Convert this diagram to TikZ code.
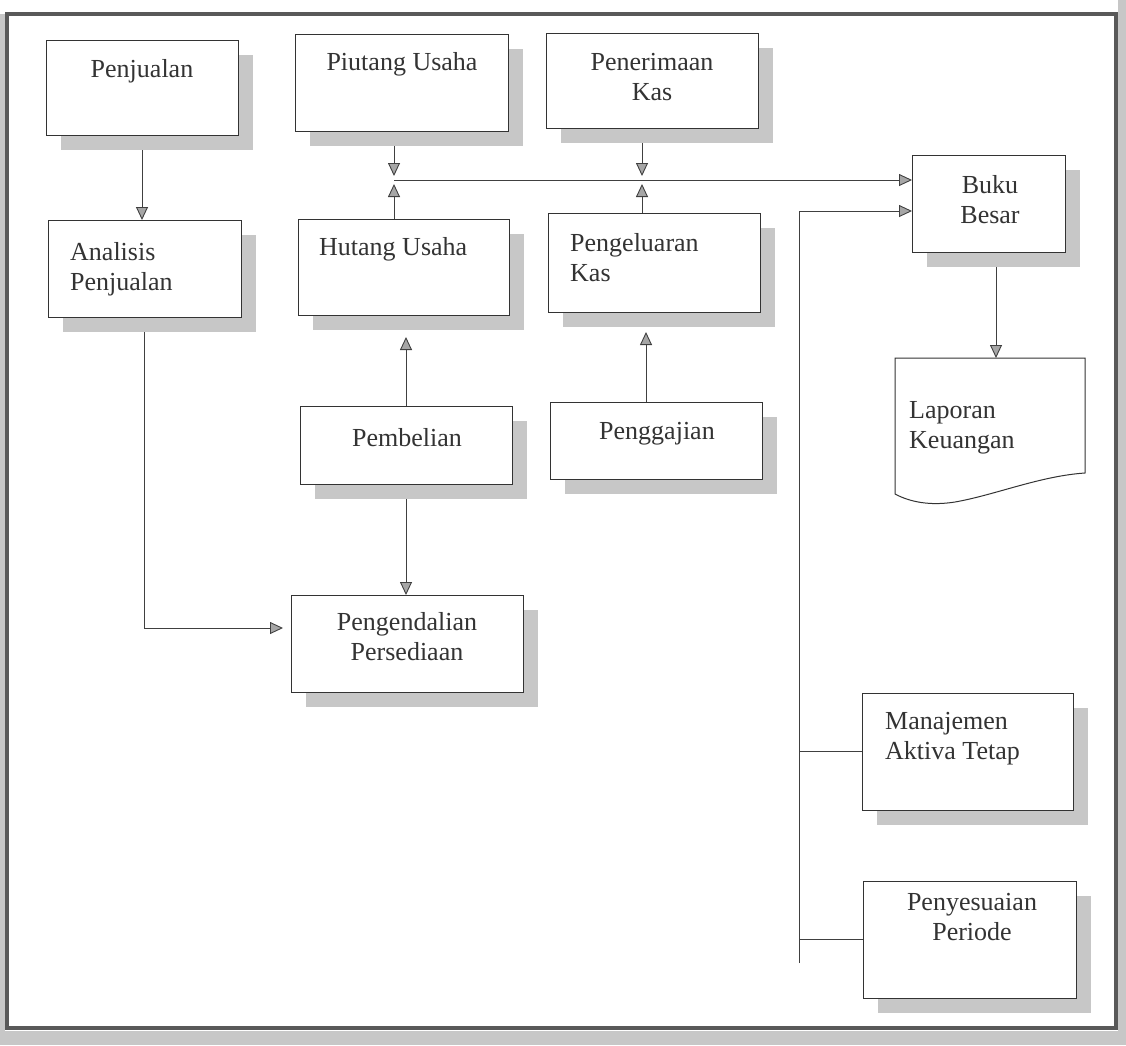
\documentclass[tikz,border=0pt]{standalone}
\usepackage{fontspec}
\setmainfont{Liberation Serif}
\usetikzlibrary{arrows.meta,calc,shadows}
\pgfdeclarelayer{bg}
\pgfsetlayers{bg,main}
\begin{document}
\begin{tikzpicture}[x=1pt,y=-1pt]
\tikzset{
 boxstyle/.style={draw=black!80, line width=1pt, fill=white, inner sep=0pt, outer sep=0pt,
   drop shadow={shadow xshift=15pt, shadow yshift=-15pt, fill=black!22, opacity=1}},
 txt/.style={inner sep=0pt, text=black!80, font=\fontsize{26}{30}\selectfont},
 conn/.style={draw=black!75, line width=0.9pt},
 arr/.style={conn, -{Triangle[length=13pt,width=12pt,fill=black!35]}},
}
\useasboundingbox (0,0) rectangle (1126,1045);
% boxes
\node[boxstyle, minimum width=192pt, minimum height=95pt] (pen) at (142,87.5) {};
\node[boxstyle, minimum width=213pt, minimum height=97pt] (piu) at (401.5,82.5) {};
\node[boxstyle, minimum width=212pt, minimum height=95pt] (pnr) at (652,80.5) {};
\node[boxstyle, minimum width=153pt, minimum height=97pt] (buku) at (988.5,203.5) {};
\node[boxstyle, minimum width=193pt, minimum height=97pt] (ana) at (144.5,268.5) {};
\node[boxstyle, minimum width=211pt, minimum height=96pt] (hut) at (403.5,267) {};
\node[boxstyle, minimum width=212pt, minimum height=99pt] (pgl) at (654,262.5) {};
\node[inner sep=0pt, outer sep=0pt, minimum width=190pt, minimum height=145pt] (lap) at (990,430.5) {};
\node[boxstyle, minimum width=212pt, minimum height=78pt] (pem) at (406,445) {};
\node[boxstyle, minimum width=212pt, minimum height=77pt] (gaj) at (656,440.5) {};
\node[boxstyle, minimum width=232pt, minimum height=97pt] (pgd) at (407,643.5) {};
\node[boxstyle, minimum width=211pt, minimum height=117pt] (man) at (967.5,751.5) {};
\node[boxstyle, minimum width=213pt, minimum height=117pt] (pys) at (969.5,939.5) {};
% document shape
\draw[draw=black!80, line width=1pt, fill=white] (lap.north west) -- (lap.north east) -- (1085,473)
  .. controls (1040,476) and (995,495) .. (955,502)
  .. controls (930,506) and (910,502) .. (895,494) -- cycle;
% texts
\node[txt, anchor=north] (pen-t) at (142,59) {Penjualan};
\node[txt, anchor=north] (piu-t) at (402,52) {Piutang Usaha};
\node[txt, anchor=north, align=center] (pnr-t) at (652,53) {Penerimaan\\Kas};
\node[txt, anchor=north, align=center] (buku-t) at (990,175) {Buku\\Besar};
\node[txt, anchor=north west, align=left] (ana-t) at (70,242) {Analisis\\Penjualan};
\node[txt, anchor=north west] (hut-t) at (319,237) {Hutang Usaha};
\node[txt, anchor=north west, align=left] (pgl-t) at (570,233) {Pengeluaran\\Kas};
\node[txt, anchor=north west, align=left] (lap-t) at (909,401) {Laporan\\Keuangan};
\node[txt, anchor=north] (pem-t) at (407,428) {Pembelian};
\node[txt, anchor=north] (gaj-t) at (657,422) {Penggajian};
\node[txt, anchor=north, align=center] (pgd-t) at (407,612) {Pengendalian\\Persediaan};
\node[txt, anchor=north west, align=left] (man-t) at (885,712) {Manajemen\\Aktiva Tetap};
\node[txt, anchor=north, align=center] (pys-t) at (972,893) {Penyesuaian\\Periode};
% junctions
\coordinate (j1) at (394,180);
\coordinate (j2) at (642,180);
\coordinate (v0) at (799,963);
\begin{pgfonlayer}{bg}
\fill[white] (0,0) rectangle (1126,1045);
\fill[black!22] (0,14) rectangle (5,1045);
\fill[black!22] (1118,0) rectangle (1126,1045);
\fill[black!22] (0,1031) rectangle (1126,1045);
\draw[line width=3.5pt, black!65] (7,14) rectangle (1116,1028);
% connectors
\draw[arr] (pen.south) -- (pen.south |- ana.north);
\draw[arr] (ana.south) |- ([xshift=-8pt, yshift=15.5pt]pgd.west);
\draw[arr] (pem.south) -- (pem.south |- pgd.north);
\draw[arr, shorten >=22pt] (pem.north) -- (pem.north |- hut.south);
\draw[arr, shorten >=20pt] ([xshift=-10pt]gaj.north) -- ([xshift=-10pt]gaj.north |- pgl.south);
\draw[arr, shorten >=4pt] (piu.south -| j1) -- (j1);
\draw[arr, shorten >=4pt] (hut.north -| j1) -- (j1);
\draw[arr, shorten >=4pt] (pnr.south -| j2) -- (j2);
\draw[arr, shorten >=4pt] (pgl.north -| j2) -- (j2);
\draw[arr] (j1) -- (j1 -| buku.west);
\draw[arr] (v0) |- ([yshift=-7.5pt]buku.west);
\draw[conn] (v0 |- man.west) -- (man.west);
\draw[conn] (v0 |- pys.west) -- (pys.west);
\draw[arr] ([xshift=7.5pt]buku.south) -- ([xshift=7.5pt]buku.south |- lap.north);
\end{pgfonlayer}
\end{tikzpicture}
\end{document}
